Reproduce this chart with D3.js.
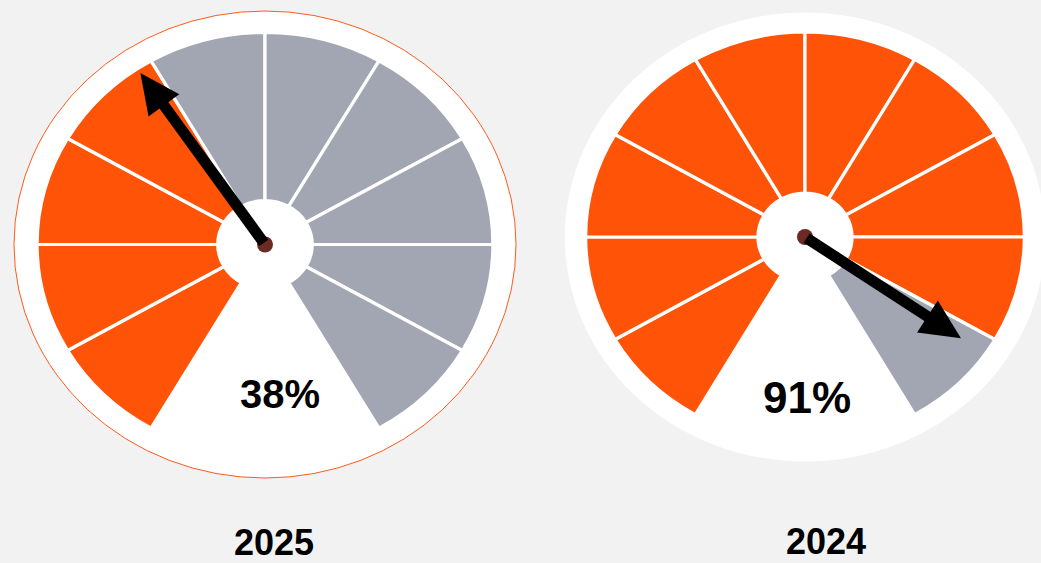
<!DOCTYPE html>
<html><head><meta charset="utf-8">
<script src="https://cdn.jsdelivr.net/npm/d3@7"></script>
<style>html,body{margin:0;padding:0;background:#f2f2f2;}svg{display:block;}</style>
</head><body>
<svg id="c" width="1041" height="563"></svg>
<script>
const years = ["2025", "2024"];
const values = [38, 91];
const valueLabels = ["38%", "91%"];
const segmentSteps = [0, 10, 20, 30, 40, 50, 60, 70, 80, 90, 100];

const layout = [
  {cx: 265, cy: 244.5, sx: 1.075, outerR: 233.5, segR: 212, hubR: 44, needleLen: 212, ring: "#ff5a1a", labelY: 408, labelSize: 40, labelX: 280, yearX: 274, yearY: 555},
  {cx: 805, cy: 237, sx: 1.07, outerR: 224.5, segR: 205, hubR: 44, needleLen: 186, ring: "none", labelY: 413, labelSize: 44, labelX: 807, yearX: 826, yearY: 554}
];
const ORANGE = "#ff5408", GRAY = "#a1a6b2";

const svg = d3.select("#c");
const angle = d3.scaleLinear().domain([0, 100]).range([-150 * Math.PI / 180, 150 * Math.PI / 180]);
const arc = d3.arc();

years.forEach((yr, i) => {
  const L = layout[i], v = values[i];
  const filled = Math.round(v / 10);
  const g = svg.append("g").attr("transform", `translate(${L.cx},${L.cy})`);
  const sg = g.append("g").attr("transform", `scale(${L.sx},1)`);
  sg.append("circle").attr("r", L.outerR).attr("fill", "#fff")
    .attr("stroke", L.ring).attr("stroke-width", 1).attr("vector-effect", "non-scaling-stroke");
  const segs = d3.pairs(segmentSteps);
  sg.selectAll("path.seg").data(segs).join("path")
    .attr("class", "seg")
    .attr("d", d => arc({innerRadius: L.hubR, outerRadius: L.segR, startAngle: angle(d[0]), endAngle: angle(d[1])}))
    .attr("fill", (d, k) => k < filled ? ORANGE : GRAY)
    .attr("stroke", "#fff").attr("stroke-width", 3.2).attr("vector-effect", "non-scaling-stroke");
  sg.append("circle").attr("r", L.hubR).attr("fill", "#fff");

  // needle (screen space)
  const a = angle(v);
  const ux = Math.sin(a), uy = -Math.cos(a);
  const headLen = 40, headHalf = 19;
  const tipX = ux * L.needleLen, tipY = uy * L.needleLen;
  const bx = tipX - ux * headLen, by = tipY - uy * headLen;
  const px = -uy, py = ux;
  g.append("circle").attr("r", 8).attr("fill", "#6b2a22");
  g.append("line").attr("x1", ux * 2).attr("y1", uy * 2).attr("x2", bx + ux * 4).attr("y2", by + uy * 4)
    .attr("stroke", "#000").attr("stroke-width", 11);
  g.append("path").attr("d", `M${tipX},${tipY}L${bx + px * headHalf},${by + py * headHalf}L${bx - px * headHalf},${by - py * headHalf}Z`)
    .attr("fill", "#000");

  svg.append("text").attr("x", L.labelX).attr("y", L.labelY).attr("text-anchor", "middle")
    .attr("font-family", "Liberation Sans, Arial, sans-serif").attr("font-weight", "bold")
    .attr("font-size", L.labelSize).attr("fill", "#000").text(valueLabels[i]);
  svg.append("text").attr("x", L.yearX).attr("y", L.yearY).attr("text-anchor", "middle")
    .attr("font-family", "Liberation Sans, Arial, sans-serif").attr("font-weight", "bold")
    .attr("font-size", 36).attr("fill", "#000").text(yr);
});
</script>
</body></html>
